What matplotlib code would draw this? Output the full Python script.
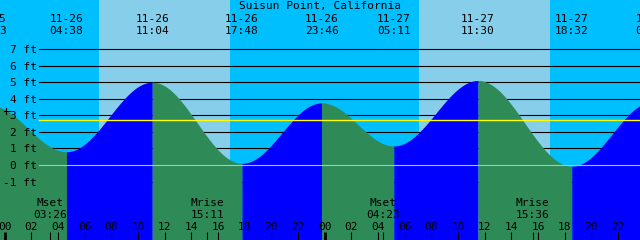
import numpy as np
import matplotlib
matplotlib.use("Agg")
import matplotlib.pyplot as plt
from matplotlib.lines import Line2D

# ---------------- data ----------------
title = "Suisun Point, California"
tide_dates = ["11-25", "11-26", "11-26", "11-26", "11-26", "11-27", "11-27", "11-27", "11-28"]
tide_times = ["22:53", "04:38", "11:04", "17:48", "23:46", "05:11", "11:30", "18:32", "00:35"]
tide_heights = [3.6, 0.8, 5.0, 0.1, 3.75, 1.15, 5.1, -0.07, 3.8]
tide_day_offset = [-1, 0, 0, 0, 0, 1, 1, 1, 2]   # day relative to 11-26

sunrise_times = ["07:04", "07:04"]
sunset_times = ["16:54", "16:54"]
sun_day_offset = [0, 1]

moon_labels = ["Mset", "Mrise", "Mset", "Mrise"]
moon_times = ["03:26", "15:11", "04:23", "15:36"]
moon_day_offset = [0, 0, 1, 1]

ft_levels = [-1, 0, 1, 2, 3, 4, 5, 6, 7]
mean_level = 2.7
hour_ticks = list(range(0, 50, 2))

# ---------------- helpers ----------------
W, H = 640, 240
X0 = 4.7          # pixel of 11-26 00:00
PX_PER_H = 13.333
Y0 = 165.0        # pixel of 0 ft
PX_PER_FT = 16.57

def hours(hhmm, day):
    h, m = hhmm.split(":")
    return day * 24 + int(h) + int(m) / 60.0

def fx(px):   # pixel x -> axes fraction
    return px / W

def fy(py):   # pixel y -> axes fraction
    return 1 - py / H

NIGHT = "#00BFFF"
DAY = "#87CEEB"
FALL = "#2E8B57"
RISE = "#0000FF"
FONT = dict(family="DejaVu Sans Mono", fontsize=8, color="black")

fig = plt.figure(figsize=(6.4, 2.4), dpi=100)
ax = fig.add_axes([0, 0, 1, 1])
xmin = -X0 / PX_PER_H
xmax = (W - X0) / PX_PER_H
ymin = -(H - Y0) / PX_PER_FT
ymax = Y0 / PX_PER_FT
ax.set_xlim(xmin, xmax)
ax.set_ylim(ymin, ymax)
ax.axis("off")
ax.set_facecolor(NIGHT)
fig.patch.set_facecolor(NIGHT)

# background night/day
ax.axvspan(xmin, xmax, color=NIGHT, zorder=0, lw=0)
for sr, ss, d in zip(sunrise_times, sunset_times, sun_day_offset):
    ax.axvspan(hours(sr, d), hours(ss, d), color=DAY, zorder=1, lw=0)

# foot grid lines (beneath tide fill)
for lv in ft_levels:
    if lv == 0:
        continue
    ax.axhline(lv, xmin=fx(39), xmax=1, color="black", lw=0.8, zorder=2)

# tide curve from extremes, half-cosine between successive high/low
t_ev = [hours(t, d) for t, d in zip(tide_times, tide_day_offset)]
for i in range(len(t_ev) - 1):
    ta, tb = t_ev[i], t_ev[i + 1]
    ha, hb = tide_heights[i], tide_heights[i + 1]
    tt = np.linspace(ta, tb, 200)
    hh = ha + (hb - ha) * (1 - np.cos(np.pi * (tt - ta) / (tb - ta))) / 2
    col = RISE if hb > ha else FALL
    ax.fill_between(tt, hh, ymin, color=col, lw=0, zorder=3)

# zero line and mean level line
ax.axhline(0, xmin=fx(39), xmax=1, color="#87CEFA", lw=0.8, zorder=4)
ax.axhline(mean_level, xmin=fx(39), xmax=1, color="#FFFF00", lw=1.0, zorder=4)

# foot labels
for lv in ft_levels:
    ax.text(fx(36.5), fy(Y0 - lv * PX_PER_FT), f"{lv} ft", transform=ax.transAxes,
            ha="right", va="center_baseline", zorder=6, **FONT)

# small cross mark at left
ax.add_line(Line2D([fx(6), fx(6)], [fy(107.5), fy(114)], transform=ax.transAxes,
                   color="black", lw=0.8, zorder=6))
ax.add_line(Line2D([fx(3.5), fx(10)], [fy(110.7), fy(110.7)], transform=ax.transAxes,
                   color="black", lw=0.8, zorder=6))

# title
ax.text(0.5, fy(5.5), title, transform=ax.transAxes, ha="center", va="center_baseline",
        zorder=6, **FONT)

# tide event labels at top
for t, dt, tm in zip(t_ev, tide_dates, tide_times):
    ax.text(t, 0, dt, transform=ax.get_xaxis_transform(), ha="center", va="center_baseline",
            zorder=6, **FONT).set_y(fy(17.5))
    ax.text(t, 0, tm, transform=ax.get_xaxis_transform(), ha="center", va="center_baseline",
            zorder=6, **FONT).set_y(fy(29.5))

# moon events at bottom
xt = ax.get_xaxis_transform()
for lab, tm, d in zip(moon_labels, moon_times, moon_day_offset):
    t = hours(tm, d)
    ax.text(t, fy(202), lab, transform=xt, ha="center", va="center_baseline", zorder=6, **FONT)
    ax.text(t, fy(213.5), tm, transform=xt, ha="center", va="center_baseline", zorder=6, **FONT)
    ax.plot([t, t], [fy(232), fy(240)], transform=xt, color="black", lw=0.8, zorder=6,
            solid_capstyle="butt")

# hour ticks and labels
for h in hour_ticks:
    lab = f"{h % 24:02d}"
    ax.text(h, fy(226), lab, transform=xt, ha="center", va="center_baseline", zorder=6, **FONT)
    lw = 2.0 if h % 24 == 0 else 0.8
    ax.plot([h, h], [fy(232), fy(240)], transform=xt, color="black", lw=lw, zorder=6,
            solid_capstyle="butt", clip_on=False)

fig.savefig("out.png", dpi=100, facecolor=fig.get_facecolor())
